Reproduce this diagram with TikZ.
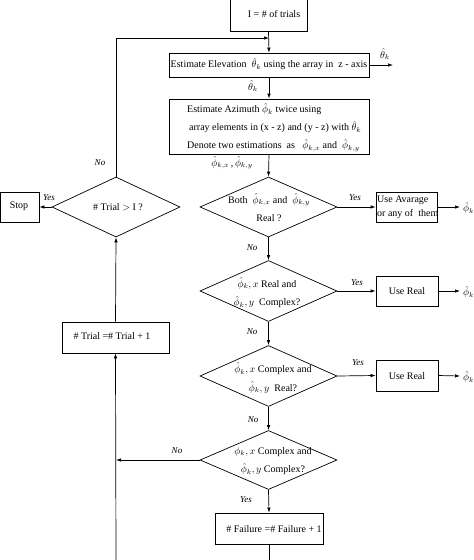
\documentclass[tikz,border=0pt]{standalone}
\usepackage{fontspec}
\setmainfont{Liberation Serif}
\usetikzlibrary{shapes.geometric,arrows.meta}
\begin{document}
\begin{tikzpicture}[x=1pt,y=-1pt,
  every node/.style={font=\fontsize{10}{12}\selectfont},
  box/.style={draw,line width=0.7pt,inner sep=0pt},
  dia/.style={draw,diamond,line width=0.7pt,inner sep=0pt},
  line/.style={line width=0.7pt},
  arr/.style={line width=0.7pt,-{Latex[length=5pt,width=3.5pt]}},
  lab/.style={font=\fontsize{9}{10}\selectfont\itshape,inner sep=0pt},
  txt/.style={align=center,inner sep=0pt,font=\fontsize{10}{18.5}\selectfont}]
\useasboundingbox (0,0) rectangle (474,560);
% boxes
\node[box,minimum width=77pt,minimum height=32pt] (top) at (268.5,15) {};
\node[inner sep=0pt] at (274,14) {I = \# of trials};
\node[box,minimum width=200pt,minimum height=24pt] (elev) at (269,65) {};
\node[inner sep=0pt] at (269,64) {Estimate Elevation\ \ $\hat{\theta}_k$\ using the array in\ \ z - axis};
\node[box,minimum width=200pt,minimum height=55pt] (azim) at (269,126.5) {};
\node[inner sep=0pt,anchor=west] at (187,109) {Estimate Azimuth $\hat{\phi}_k$\ twice using};
\node[inner sep=0pt,anchor=west] at (189,127) {array elements in (x - z) and (y - z) with $\hat{\theta}_k$};
\node[inner sep=0pt,anchor=west] at (187,145.5) {Denote two estimations\ \ as\ \ \ $\hat{\phi}_{k,x}$ and\ \ $\hat{\phi}_{k,y}$};
% diamonds
\node[dia,minimum width=137pt,minimum height=60pt] (d1) at (268.5,207) {};
\node[txt] at (269,208) {Both\ \ $\hat{\phi}_{k,x}$ and\ \ $\hat{\phi}_{k,y}$\\Real ?};
\node[dia,minimum width=128pt,minimum height=60pt] (dT) at (116,207) {};
\node[inner sep=0pt] at (118,207) {\# Trial $>$ I ?};
\node[box,minimum width=39pt,minimum height=30pt] (stop) at (19.5,207) {};
\node[inner sep=0pt] at (19,206) {Stop};
\node[box,minimum width=61pt,minimum height=30pt] (avg) at (406.5,207) {};
\node[inner sep=0pt,anchor=west,align=left,font=\fontsize{10}{14}\selectfont] at (377,207) {Use Avarage\\or any of\ \ them};
\node[dia,minimum width=137pt,minimum height=61pt] (d2) at (268.5,291) {};
\node[txt] at (267,293) {$\hat{\phi}_{k},x$ Real and\\$\hat{\phi}_{k},y$\ \ Complex?};
\node[box,minimum width=62pt,minimum height=30pt] (real1) at (407,291) {};
\node[inner sep=0pt] at (407,291) {Use Real};
\node[box,minimum width=107pt,minimum height=31pt] (trial) at (115.5,337.5) {};
\node[inner sep=0pt] at (112,336) {\# Trial =\# Trial + 1};
\node[dia,minimum width=137pt,minimum height=61pt] (d3) at (268.5,376) {};
\node[txt] at (273,378) {$\hat{\phi}_{k},x$ Complex and\\$\hat{\phi}_{k},y$\ \ Real?};
\node[box,minimum width=62pt,minimum height=31pt] (real2) at (407,375.5) {};
\node[inner sep=0pt] at (407,376) {Use Real};
\node[dia,minimum width=137pt,minimum height=59pt] (d4) at (268.5,460) {};
\node[txt] at (273,461) {$\phi_{k},x$ Complex and\\$\hat{\phi}_{k},y$ Complex?};
\node[box,minimum width=108pt,minimum height=31pt] (fail) at (269,528.5) {};
\node[inner sep=0pt] at (274,529) {\# Failure =\# Failure + 1};
% coordinates
\coordinate (L1) at (116,38);
\coordinate (J1) at (269,38);
\coordinate (o1) at (393,65);
\coordinate (o2) at (460,207);
\coordinate (o3) at (460,291);
\coordinate (o4) at (460,376);
\coordinate (J2) at (116,460);
\coordinate (B1) at (116,561);
\coordinate (B2) at (269,561);
% outputs labels
\node[inner sep=0pt] at (385,54) {$\hat{\theta}_k$};
\node[inner sep=0pt,anchor=west] at (463,208) {$\hat{\phi}_k$};
\node[inner sep=0pt,anchor=west] at (463,292) {$\hat{\phi}_k$};
\node[inner sep=0pt,anchor=west] at (463,377) {$\hat{\phi}_k$};
% connectors
\draw[arr] (top.south) -- (elev.north);
\draw[arr] (dT.north) -- (L1) -- (J1);
\draw[arr] (elev.east) -- (o1);
\draw[arr] (elev.south) -- (azim.north);
\node[inner sep=0pt] at (253,86) {$\hat{\theta}_k$};
\draw[arr] (azim.south) -- (d1.north);
\node[inner sep=0pt] at (232,163) {$\hat{\phi}_{k,x}$\,,\,$\hat{\phi}_{k,y}$};
\draw[arr] (dT.west) -- (stop.east);
\node[lab] at (49,198) {Yes};
\node[lab] at (100,163) {No};
\draw[arr] (d1.east) -- (avg.west);
\node[lab] at (355,198) {Yes};
\draw[arr] (avg.east) -- (o2);
\draw[arr] (d1.south) -- (d2.north);
\node[lab] at (252,248) {No};
\draw[arr] (d2.east) -- (real1.west);
\node[lab] at (357,283) {Yes};
\draw[arr] (real1.east) -- (o3);
\draw[arr] (d2.south) -- (d3.north);
\node[lab] at (252,332) {No};
\draw[arr] (d3.east) -- (real2.west);
\node[lab] at (358,363) {Yes};
\draw[arr] (real2.east) -- (o4);
\draw[arr] (d3.south) -- (d4.north);
\node[lab] at (253,420) {No};
\draw[arr] (d4.west) -- (J2);
\node[lab] at (177,451) {No};
\draw[arr] (d4.south) -- (fail.north);
\node[lab] at (246,500) {Yes};
\draw[line] (fail.south) -- (B2);
\draw[arr] (B1) -- (trial.south);
\draw[arr] (trial.north) -- (dT.south);
\end{tikzpicture}
\end{document}
